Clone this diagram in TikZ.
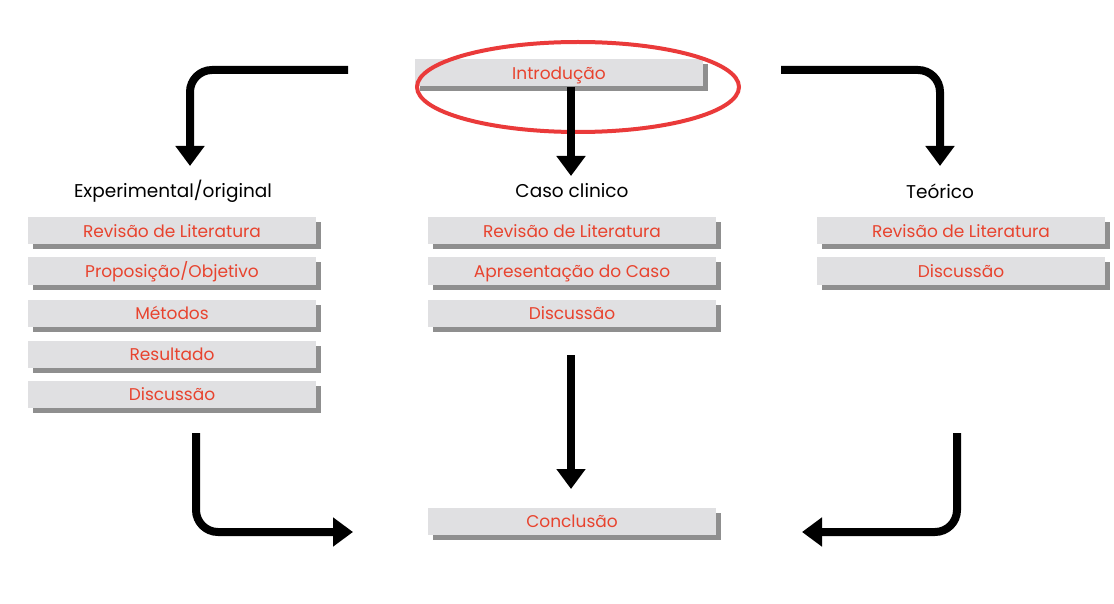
\documentclass[tikz,border=0pt]{standalone}
\usepackage{fontspec}
\setmainfont{Poppins}
\usetikzlibrary{arrows.meta,shadows,shapes.geometric}
\definecolor{boxgray}{HTML}{E0E0E2}
\definecolor{txtred}{HTML}{E8432E}
\definecolor{ellred}{HTML}{EA3A3A}
\tikzset{
  box/.style={fill=boxgray, text=txtred, minimum width=288pt, minimum height=27pt,
    inner sep=0pt, font=\fontsize{17}{20}\selectfont, text height=14pt, text depth=1pt,
    drop shadow={shadow xshift=5pt, shadow yshift=-5pt, fill=black!55, opacity=0.8}},
  head/.style={font=\fontsize{18.5}{22}\selectfont, text=black},
  bigarrow/.style={line width=8pt, -{Triangle[width=28pt,length=20pt]}, rounded corners=22pt},
}
\begin{document}
\begin{tikzpicture}[x=1pt,y=-1pt]
\useasboundingbox (0,0) rectangle (1114,604);
% boxes
\node[box] (intro) at (559,73) {Introdução};
\node[head] (hexp) at (173,191) {Experimental/original};
\node[head] (hcaso) at (572,191) {Caso clinico};
\node[head] (hteo) at (940,191) {Teórico};

\node[box] (e1) at (172,231) {Revisão de Literatura};
\node[box] (e2) at (172,271) {Proposição/Objetivo};
\node[box] (e3) at (172,313) {Métodos};
\node[box] (e4) at (172,354) {Resultado};
\node[box] (e5) at (172,394) {Discussão};

\node[box] (c1) at (572,231) {Revisão de Literatura};
\node[box] (c2) at (572,271) {Apresentação do Caso};
\node[box] (c3) at (572,313) {Discussão};

\node[box] (t1) at (961,231) {Revisão de Literatura};
\node[box] (t2) at (961,271) {Discussão};

\node[box] (concl) at (572,521) {Conclusão};

% ellipse highlight
\node[draw=ellred, line width=4pt, ellipse, minimum width=322pt, minimum height=90pt] (ell) at (578,87) {};

% coordinates
\coordinate (lstart) at (348,70);
\coordinate (lcorner) at (190,70);
\coordinate (ltip) at (190,166);
\coordinate (rstart) at (781,70);
\coordinate (rcorner) at (940,70);
\coordinate (rtip) at (940,166);
\coordinate (mtip) at (571,176);
\coordinate (mbstart) at (571,355);
\coordinate (mbtip) at (571,489);
\coordinate (lbstart) at (196,433);
\coordinate (lbcorner) at (196,532);
\coordinate (lbtip) at (353,532);
\coordinate (rbstart) at (957,433);
\coordinate (rbcorner) at (957,532);
\coordinate (rbtip) at (802,532);

\draw[bigarrow] (lstart) -- (lcorner) -- (ltip);
\draw[bigarrow] (rstart) -- (rcorner) -- (rtip);
\draw[bigarrow] (intro.south -| mtip) -- (mtip);
\draw[bigarrow] (mbstart) -- (mbtip);
\draw[bigarrow] (lbstart) -- (lbcorner) -- (lbtip);
\draw[bigarrow] (rbstart) -- (rbcorner) -- (rbtip);
\end{tikzpicture}
\end{document}
